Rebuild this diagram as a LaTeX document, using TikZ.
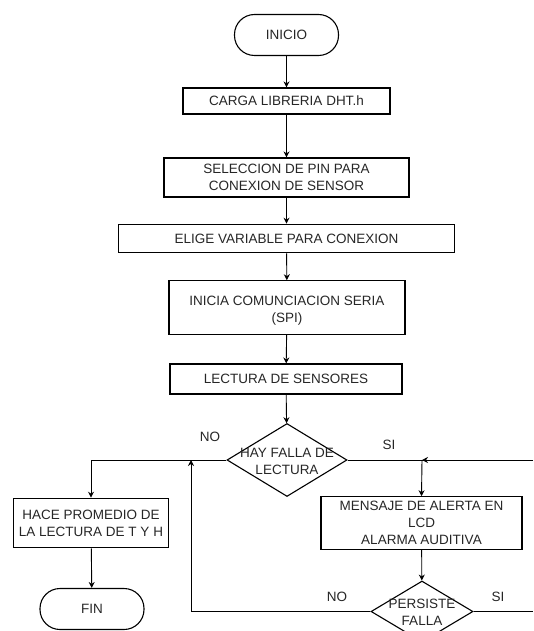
\documentclass[tikz,border=0pt]{standalone}
\usepackage{fontspec}
\setmainfont{Liberation Sans}
\usetikzlibrary{shapes.geometric,arrows.meta}
\begin{document}
\begin{tikzpicture}[x=1pt,y=-1pt,
  every node/.style={font=\fontsize{13.5}{17}\selectfont, text=black!85, align=center, inner sep=0pt},
  box/.style={draw, line width=1.1pt, rectangle, minimum width=#1},
  pill/.style={draw, line width=1.1pt, rectangle, rounded corners=20pt, minimum width=104pt, minimum height=41pt},
  dia/.style={draw, line width=1.1pt, diamond},
  conn/.style={line width=0.9pt},
  arr/.style={conn, -{Stealth[length=6pt,width=6pt]}}]
\useasboundingbox (0,0) rectangle (533,631);
\node[pill] (inicio) at (286.5,35) {INICIO};
\node[box=207pt, minimum height=26pt] (carga) at (286.5,101) {CARGA LIBRERIA DHT.h};
\node[box=245pt, minimum height=39pt] (sel) at (286.5,177.5) {SELECCION DE PIN PARA\\CONEXION DE SENSOR};
\node[box=336pt, minimum height=28.5pt] (elige) at (286.5,238.5) {ELIGE VARIABLE PARA CONEXION};
\node[box=236pt, minimum height=53.5pt] (inicia) at (287,307.5) {};
\node (iniciat) at (287,311) {INICIA COMUNCIACION SERIA\\(SPI)};
\node[box=232pt, minimum height=30pt] (lect) at (286,379) {LECTURA DE SENSORES};
\node[dia, minimum width=120pt, minimum height=73pt] (d1) at (287,460) {};
\node (d1t) at (287,461) {HAY FALLA DE\\LECTURA};
\node[box=155pt, minimum height=49.5pt] (hace) at (91,523) {HACE PROMEDIO DE\\LA LECTURA DE T Y H};
\node[pill] (fin) at (92,609) {FIN};
\node[box=201pt, minimum height=52.5pt] (msg) at (421.5,523) {MENSAJE DE ALERTA EN\\LCD\\ALARMA AUDITIVA};
\node[dia, minimum width=102pt, minimum height=61pt] (d2) at (422,611.5) {};
\node (d2t) at (422,612) {PERSISTE\\FALLA};
\node (no1) at (210,437) {NO};
\node (si1) at (389,445) {SI};
\node (no2) at (337,597) {NO};
\node (si2) at (498,597) {SI};
\coordinate (jr) at (422,460);
\coordinate (rt) at (533,460);
\coordinate (re) at (533,611.5);
\coordinate (lb) at (191,611.5);
\coordinate (lt) at (191,460);
\draw[arr] (inicio) -- (carga);
\draw[arr] (carga) -- (sel);
\draw[arr] (sel) -- (elige);
\draw[arr] (elige) -- (inicia);
\draw[arr] (inicia) -- (lect);
\draw[arr] (lect) -- (d1);
\draw[arr] (d1.west) -| (hace.north);
\draw[arr] (hace) -- (fin);
\draw[conn] (d1.east) -- (rt);
\draw[arr] (rt) -- (jr);
\draw[arr] (jr) -- (msg.north);
\draw[arr] (msg) -- (d2);
\draw[conn] (d2.east) -- (re);
\draw[arr] (d2.west) -- (lb) -- (lt);
\end{tikzpicture}
\end{document}
